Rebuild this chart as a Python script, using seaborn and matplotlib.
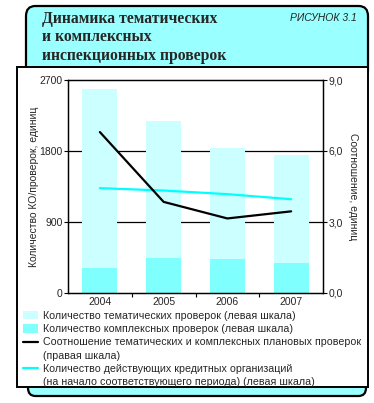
import numpy as np
import pandas as pd
import matplotlib
matplotlib.use("Agg")
import matplotlib.pyplot as plt
import seaborn as sns
from matplotlib.patches import FancyBboxPatch, Rectangle, Patch
from matplotlib.lines import Line2D

years = ["2004", "2005", "2006", "2007"]
thematic = [2590, 2180, 1840, 1750]
complex_ = [320, 450, 430, 385]
ratio = [6.8, 3.85, 3.15, 3.45]
banks = [1329, 1299, 1253, 1189]
left_ticks = [0, 900, 1800, 2700]
right_ticks = [0, 3, 6, 9]
right_tick_labels = ["0,0", "3,0", "6,0", "9,0"]

title = "Динамика тематических\nи комплексных\nинспекционных проверок"
fig_label = "РИСУНОК 3.1"
ylabel_left = "Количество КО/проверок, единиц"
ylabel_right = "Соотношение, единиц"
legend_labels = [
    "Количество тематических проверок (левая шкала)",
    "Количество комплексных проверок (левая шкала)",
    "Соотношение тематических и комплексных плановых проверок",
    "(правая шкала)",
    "Количество действующих кредитных организаций",
    "(на начало соответствующего периода) (левая шкала)",
]

C_THEM = "#CCFFFF"
C_COMP = "#80FFFF"
C_HEAD = "#99FFFF"
C_LINE = "#00FFFF"

sns.set_theme(style="white")
plt.rcParams["font.family"] = ["Liberation Sans", "DejaVu Sans"]

W, H = 374, 403
fig = plt.figure(figsize=(W / 100, H / 100), dpi=100)

def fx(x):
    return x / W

def fy(y):
    return 1 - y / H

# decorative frame
head = FancyBboxPatch((fx(26), fy(80)), fx(368) - fx(26), fy(6) - fy(80),
                      boxstyle="round,pad=0,rounding_size=0.025",
                      transform=fig.transFigure, facecolor=C_HEAD,
                      edgecolor="black", linewidth=1.6, zorder=0)
fig.patches.append(head)
foot = FancyBboxPatch((fx(28), fy(396)), fx(366) - fx(28), fy(370) - fy(396),
                      boxstyle="round,pad=0,rounding_size=0.02",
                      transform=fig.transFigure, facecolor=C_HEAD,
                      edgecolor="black", linewidth=1.6, zorder=0)
fig.patches.append(foot)
body = Rectangle((fx(17), fy(387)), fx(368) - fx(17), fy(67) - fy(387),
                 transform=fig.transFigure, facecolor="white",
                 edgecolor="black", linewidth=1.4, zorder=1)
fig.patches.append(body)

fig.text(fx(42), fy(11), title, ha="left", va="top", fontsize=11.3,
         fontweight="bold", family=["Liberation Serif", "DejaVu Serif"],
         linespacing=1.2, zorder=3)
fig.text(fx(357), fy(18), fig_label, ha="right", va="center", fontsize=7.5,
         style="italic", zorder=3)

ax = fig.add_axes([fx(68), fy(293), fx(323) - fx(68), fy(80) - fy(293)])
ax.set_zorder(2)
ax.patch.set_visible(False)

df = pd.DataFrame({"year": years, "thematic": thematic, "complex": complex_,
                   "ratio": ratio, "banks": banks, "pos": np.arange(len(years))})

for y in [900, 1800]:
    ax.axhline(y, color="black", linewidth=0.9, zorder=0)

sns.barplot(data=df, x="year", y="thematic", color=C_THEM, width=0.55,
            saturation=1, linewidth=0, ax=ax, zorder=1)
sns.barplot(data=df, x="year", y="complex", color=C_COMP, width=0.55,
            saturation=1, linewidth=0, ax=ax, zorder=1)
sns.lineplot(data=df, x="pos", y="banks", color=C_LINE, linewidth=1.6,
             ax=ax, zorder=3)

ax.set_xlim(-0.5, len(years) - 0.5)
ax.set_ylim(0, 2700)
ax.set_yticks(left_ticks)
ax.set_yticklabels([str(v) for v in left_ticks])
ax.set_xticks(np.arange(len(years)))
ax.set_xticklabels(years)
ax.set_xticks(np.arange(len(years) - 1) + 0.5, minor=True)
ax.tick_params(axis="x", which="major", length=0, labelsize=7.5, pad=3)
ax.tick_params(axis="x", which="minor", length=3, width=0.8, direction="out",
               color="black", bottom=True)
ax.tick_params(axis="y", length=3, width=0.8, direction="out", color="black",
               labelsize=7.5, pad=1, left=True)
ax.set_xlabel("")
ax.set_ylabel(ylabel_left, fontsize=7.5, labelpad=0)
for s in ax.spines.values():
    s.set_color("black")
    s.set_linewidth(0.9)
ax.spines["top"].set_visible(True)
ax.grid(False)

ax2 = ax.twinx()
ax2.set_zorder(3)
sns.lineplot(data=df, x="pos", y="ratio", color="black", linewidth=1.6,
             ax=ax2)
ax2.set_ylim(0, 9)
ax2.set_yticks(right_ticks)
ax2.set_yticklabels(right_tick_labels)
ax2.tick_params(axis="y", length=3, width=0.8, direction="out", color="black",
                labelsize=7.5, pad=1, right=True)
ax2.set_ylabel(ylabel_right, fontsize=7.5, rotation=270, labelpad=11)
ax2.set_xlabel("")
for s in ax2.spines.values():
    s.set_color("black")
    s.set_linewidth(0.9)
ax2.grid(False)

blank = Line2D([], [], color="none")
handles = [
    Patch(facecolor=C_THEM, edgecolor="none"),
    Patch(facecolor=C_COMP, edgecolor="none"),
    Line2D([], [], color="black", linewidth=1.6),
    blank,
    Line2D([], [], color=C_LINE, linewidth=1.6),
    blank,
]
leg = fig.legend(handles, legend_labels, loc="upper left",
                 bbox_to_anchor=(fx(23), fy(311)), frameon=False,
                 fontsize=7.7, handlelength=1.4, handleheight=0.8,
                 handletextpad=0.45, labelspacing=0.3, borderpad=0,
                 borderaxespad=0)
leg.set_zorder(4)

fig.savefig("out.png", dpi=100)
